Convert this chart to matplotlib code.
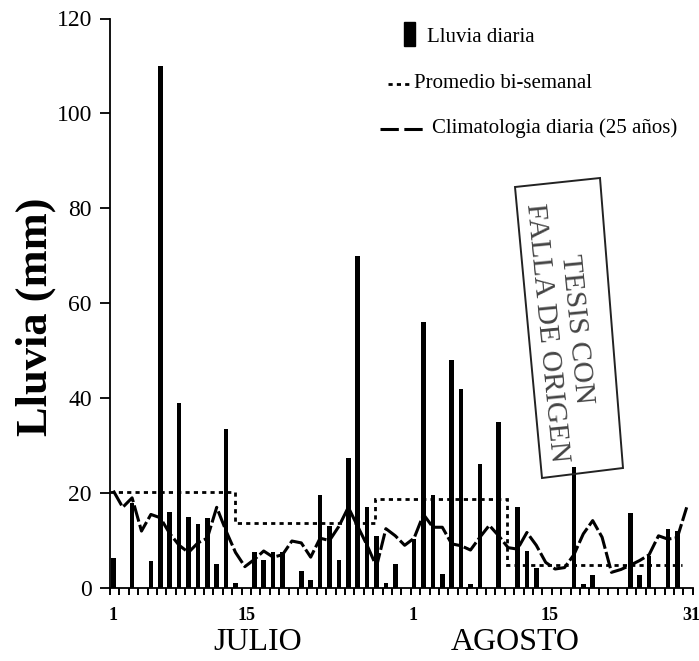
import numpy as np
import matplotlib
matplotlib.use("Agg")
import matplotlib.pyplot as plt
from matplotlib.patches import Polygon, Rectangle
from matplotlib.lines import Line2D

plt.rcParams['font.family'] = ['Liberation Serif', 'DejaVu Serif']

# Daily rainfall (mm), 1 July .. 31 August
days = np.arange(1, 63)
rain = [6.3, 0, 18, 0, 5.7, 110, 16, 39, 15, 13.5, 14.7, 5, 33.6, 1.1, 0,
        7.5, 6, 7.5, 7.5, 0, 3.6, 1.7, 19.6, 13, 6, 27.4, 70, 17, 11, 1, 5,
        0, 10.3, 56, 19.5, 3, 48, 42, 0.8, 26.2, 0, 35, 0, 17, 7.8, 4.2,
        0, 0, 0, 25.5, 0.8, 2.7, 0, 0, 0, 15.7, 2.7, 6.8, 0, 12.4, 12, 0]

# Daily climatology (25-year mean), mm
clim = [20.5, 17, 19, 12, 15.5, 14.8, 11.5, 9, 7.5, 9.5, 10.5, 17, 12, 7.5,
        4.5, 6, 7.8, 6.5, 7, 9.9, 9.5, 6.5, 10.5, 10, 13, 17, 13, 9, 4.5,
        12.5, 11, 9, 10.5, 15.5, 12.8, 12.8, 9.3, 8.9, 8, 10.7, 13.2, 11,
        8.5, 8.2, 11.7, 9, 5.4, 4, 4.3, 7, 11.4, 14.2, 10.7, 3.3, 3.9, 4.8,
        5.8, 7, 11, 10.3, 10.6, 17]

# Bi-weekly means and the day limits of each period
biweek_edges = [0.65, 14.0, 28.8, 42.9, 61.5]
biweek_mean = [20.2, 13.8, 18.7, 4.8]

xtick_labels = ["1", "15", "1", "15", "31"]
xtick_days = [1, 15.2, 32.9, 47.4, 62.5]
month_names = ["JULIO", "AGOSTO"]

W, H = 699, 661
fig = plt.figure(figsize=(W / 100, H / 100), dpi=100)
ax = fig.add_axes([110 / W, 1 - 588 / H, 582.8 / W, 569.5 / H])

DOTS = (0, (1.5, 1.5))
DASHES = (0, (5.5, 1.1))

ax.bar(days, rain, width=0.5, color="black", zorder=2)
ax.stairs(biweek_mean, biweek_edges, baseline=None, color="black",
          linewidth=2.0, linestyle=DOTS, zorder=3)
ax.plot(days, clim, color="black", linewidth=2.2, linestyle=DASHES,
        zorder=4)

ax.set_xlim(0.65, 62.65)
ax.set_ylim(0, 120)
for s in ("top", "right"):
    ax.spines[s].set_visible(False)
for s in ("left", "bottom"):
    ax.spines[s].set_linewidth(1.3)

ax.set_yticks(np.arange(0, 121, 20))
ax.tick_params(axis="y", direction="out", length=7, width=1.3, pad=6,
               labelsize=17)
ax.set_xticks(np.arange(0, 63) + 0.65, minor=True)
ax.tick_params(axis="x", which="minor", direction="out", length=5, width=1.4)
ax.set_xticks(xtick_days)
ax.set_xticklabels(xtick_labels, fontweight="bold")
ax.tick_params(axis="x", which="major", length=0, pad=14, labelsize=13)


def fx(px):
    return px / W


def fy(py):
    return 1 - py / H


fig.text(fx(36), fy(317), "Lluvia (mm)", fontsize=32, fontweight="bold",
         rotation=90, ha="center", va="center")

fig.text(fx(258), fy(642), month_names[0], fontsize=23,
         ha="center", va="center")
fig.text(fx(515), fy(642), month_names[1], fontsize=23,
         ha="center", va="center")

# Legend
fig.patches.append(Rectangle((fx(404), fy(46)), 11 / W, 24 / H,
                             transform=fig.transFigure, color="black"))
fig.text(fx(427), fy(37), "Lluvia diaria", fontsize=15, va="center")
fig.lines.append(Line2D([fx(388), fx(410)], [fy(84), fy(84)],
                        transform=fig.transFigure, color="black",
                        linewidth=2.0, linestyle=DOTS))
fig.text(fx(414), fy(83), "Promedio bi-semanal", fontsize=15, va="center")
fig.lines.append(Line2D([fx(380), fx(423)], [fy(129), fy(129)],
                        transform=fig.transFigure, color="black",
                        linewidth=2.2, linestyle=(0, (6, 1.8))))
fig.text(fx(432), fy(128), "Climatologia diaria (25 años)", fontsize=15,
         va="center")

# Stamp
corners = [(515, 187), (600, 178), (623, 468), (542, 478)]
fig.patches.append(Polygon([(fx(x), fy(y)) for x, y in corners],
                           closed=True, fill=False, edgecolor="#222222",
                           linewidth=1.4, transform=fig.transFigure))
fig.text(fx(561), fy(331), "TESIS CON\nFALLA DE ORIGEN", fontsize=21.5,
         color="#444444", rotation=-84.5, rotation_mode="anchor",
         ha="center", va="center", multialignment="center",
         linespacing=1.2)

fig.savefig("out.png", dpi=100)
